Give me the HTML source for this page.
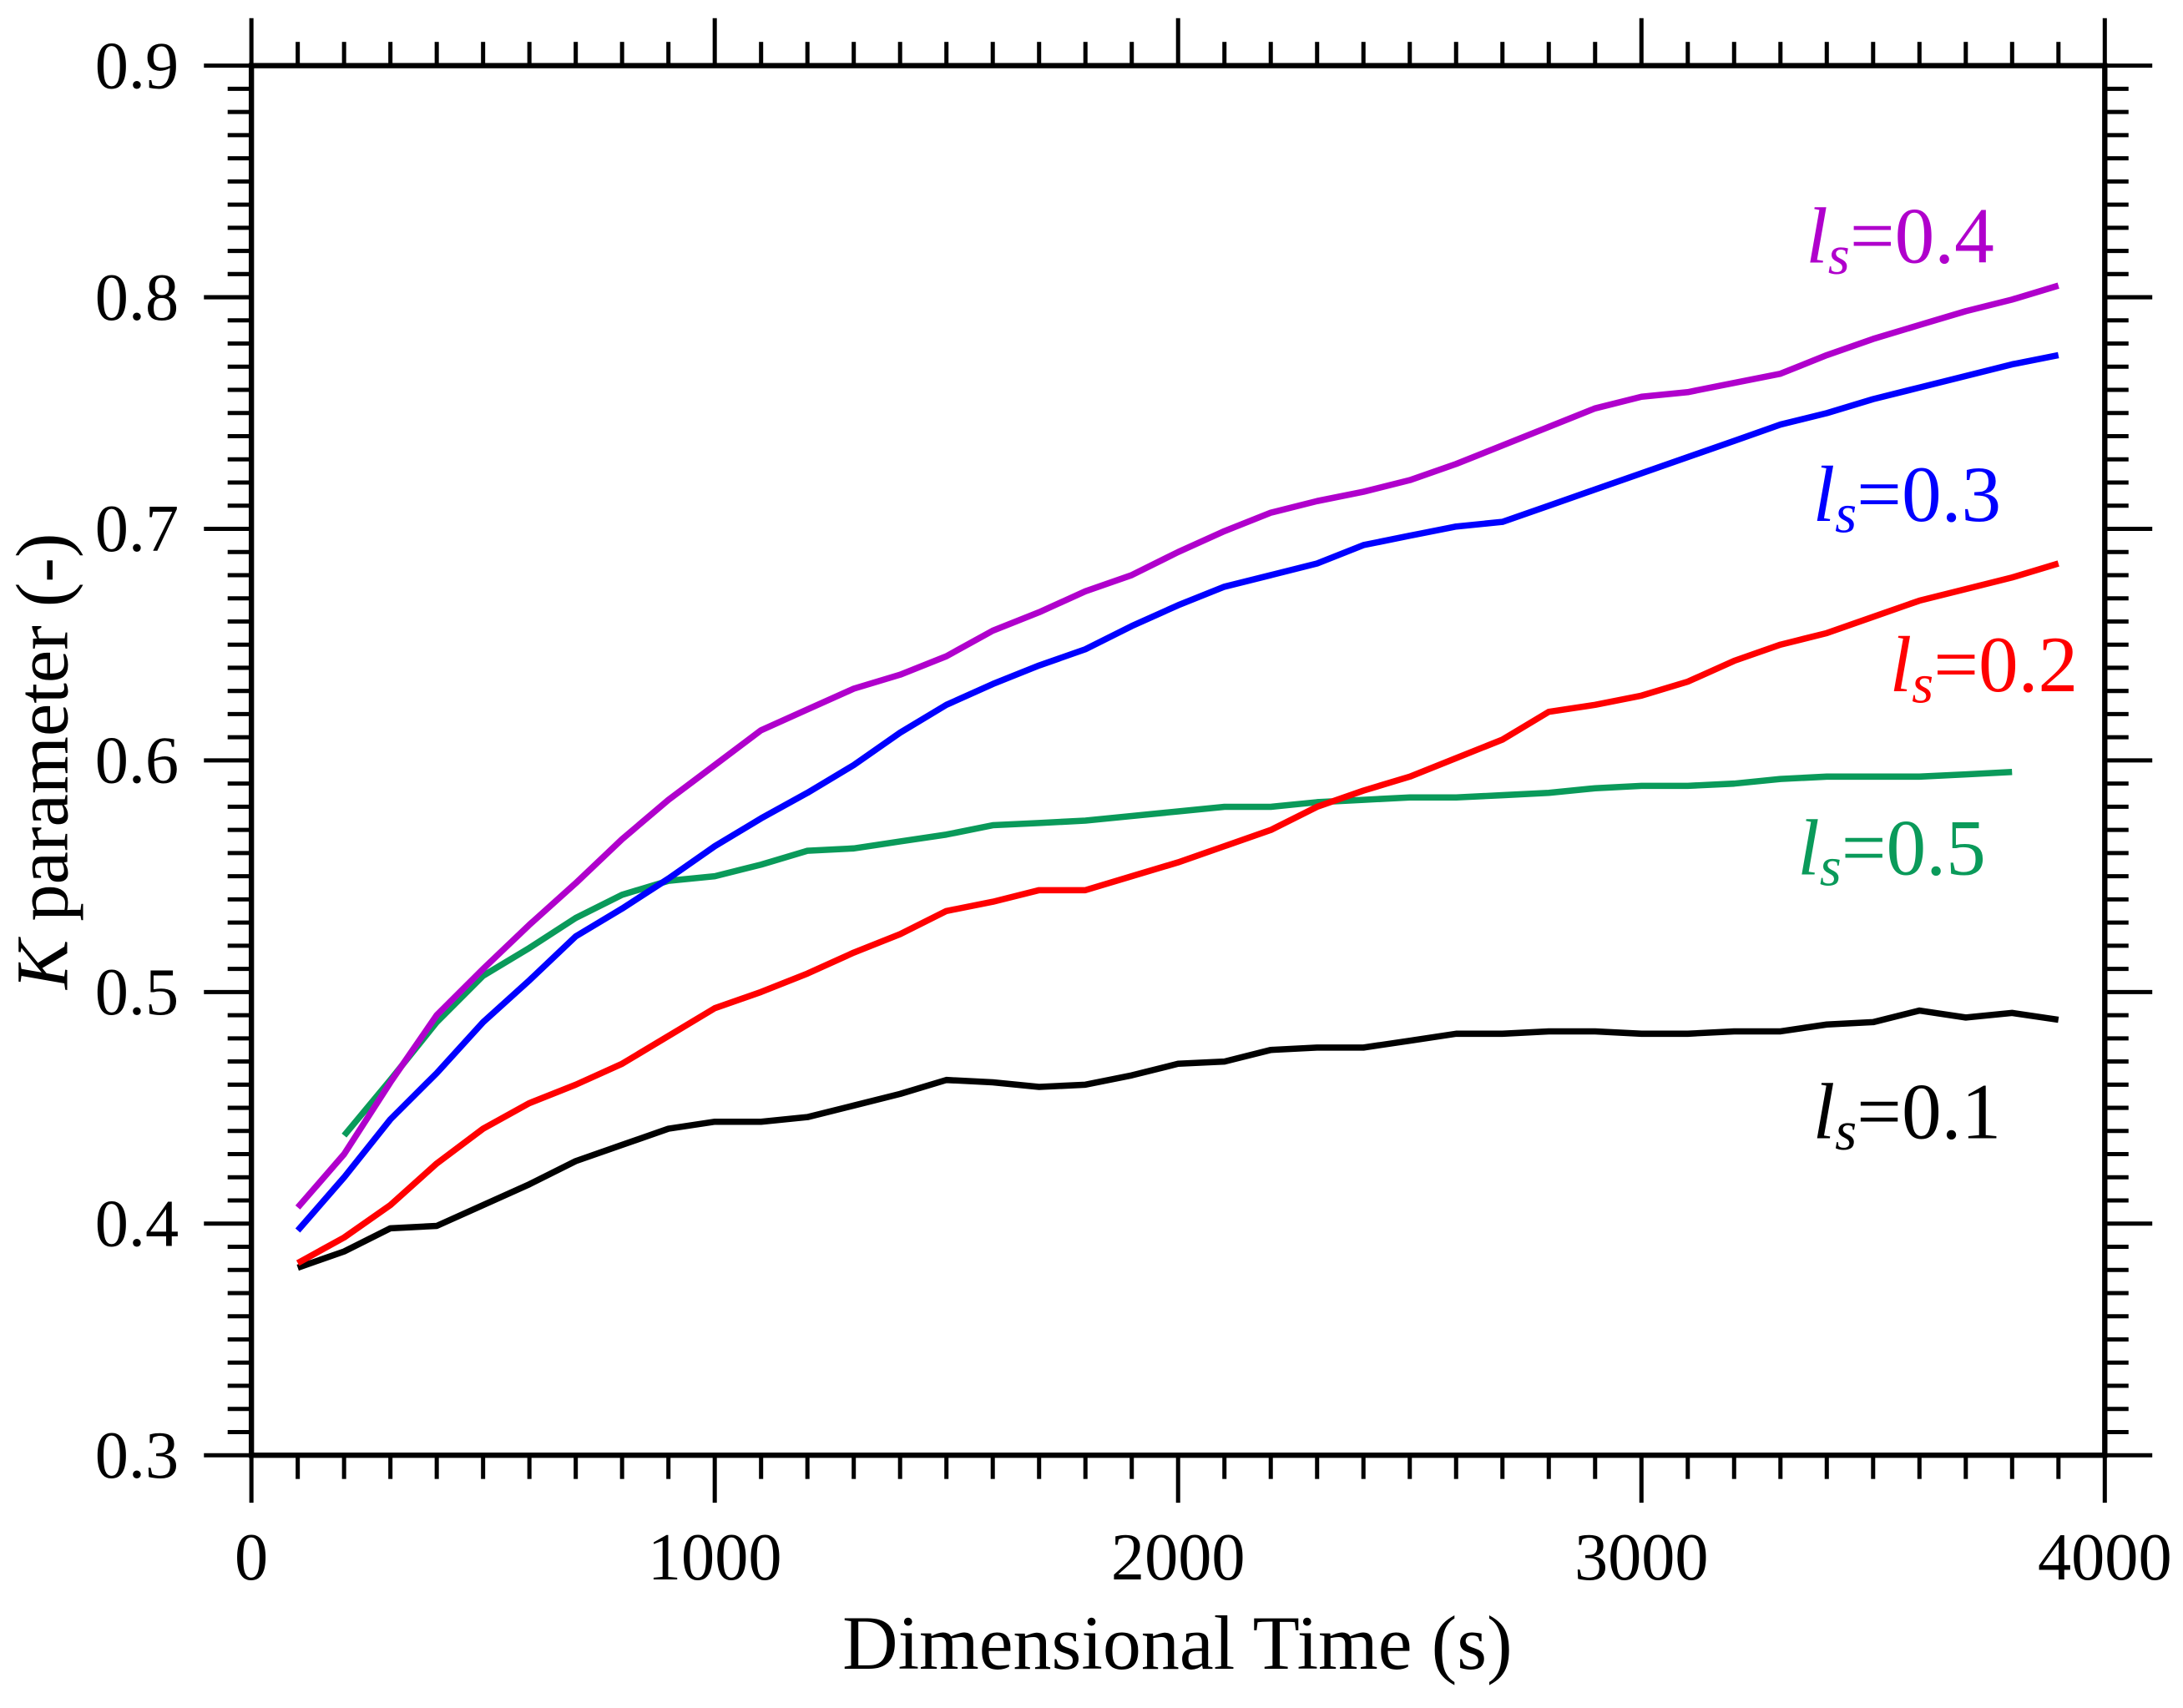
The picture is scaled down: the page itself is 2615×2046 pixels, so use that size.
<!DOCTYPE html>
<html><head><meta charset="utf-8"><style>
html,body{margin:0;padding:0;background:#fff;}
svg{display:block;}
text{font-family:"Liberation Serif",serif;}
</style></head><body>
<svg id="chart" width="2615" height="2046" viewBox="0 0 1563 1223" preserveAspectRatio="none" xmlns="http://www.w3.org/2000/svg">
<g id="axes"></g>
<g id="series"></g>
<text x="843" y="1195" font-size="55" text-anchor="middle">Dimensional Time (s)</text>
<text transform="translate(48,545) rotate(-90)" font-size="53" text-anchor="middle"><tspan font-style="italic">K</tspan> parameter (-)</text>
<text x="1293" y="188" font-size="57" fill="#b000cc"><tspan font-style="italic">l</tspan><tspan font-style="italic" font-size="40" dy="8">s</tspan><tspan dy="-8">=0.4</tspan></text>
<text x="1298" y="373" font-size="57" fill="#0000ff"><tspan font-style="italic">l</tspan><tspan font-style="italic" font-size="40" dy="8">s</tspan><tspan dy="-8">=0.3</tspan></text>
<text x="1353" y="495" font-size="57" fill="#ff0000"><tspan font-style="italic">l</tspan><tspan font-style="italic" font-size="40" dy="8">s</tspan><tspan dy="-8">=0.2</tspan></text>
<text x="1287" y="626" font-size="57" fill="#0a9a5a"><tspan font-style="italic">l</tspan><tspan font-style="italic" font-size="40" dy="8">s</tspan><tspan dy="-8">=0.5</tspan></text>
<text x="1298" y="815" font-size="57" fill="#000"><tspan font-style="italic">l</tspan><tspan font-style="italic" font-size="40" dy="8">s</tspan><tspan dy="-8">=0.1</tspan></text>
</svg>
<script>
const xTicks=[0,1000,2000,3000,4000];
const yTicks=[0.3,0.4,0.5,0.6,0.7,0.8,0.9];
const xTickLabels=["0","1000","2000","3000","4000"];
const yTickLabels=["0.3","0.4","0.5","0.6","0.7","0.8","0.9"];
const timeA=[100,200,300,400,500,600,700,800,900,1000,1100,1200,1300,1400,1500,1600,1700,1800,1900,2000,2100,2200,2300,2400,2500,2600,2700,2800,2900,3000,3100,3200,3300,3400,3500,3600,3700,3800,3900];
const timeG=[200,300,400,500,600,700,800,900,1000,1100,1200,1300,1400,1500,1600,1700,1800,1900,2000,2100,2200,2300,2400,2500,2600,2700,2800,2900,3000,3100,3200,3300,3400,3500,3600,3700,3800];
const ls01=[0.381,0.388,0.398,0.399,0.408,0.417,0.427,0.434,0.441,0.444,0.444,0.446,0.451,0.456,0.462,0.461,0.459,0.460,0.464,0.469,0.470,0.475,0.476,0.476,0.479,0.482,0.482,0.483,0.483,0.482,0.482,0.483,0.483,0.486,0.487,0.492,0.489,0.491,0.488];
const ls02=[0.383,0.394,0.408,0.426,0.441,0.452,0.460,0.469,0.481,0.493,0.500,0.508,0.517,0.525,0.535,0.539,0.544,0.544,0.550,0.556,0.563,0.570,0.580,0.587,0.593,0.601,0.609,0.621,0.624,0.628,0.634,0.643,0.650,0.655,0.662,0.669,0.674,0.679,0.685];
const ls03=[0.397,0.420,0.445,0.465,0.487,0.505,0.524,0.536,0.549,0.563,0.575,0.586,0.598,0.612,0.624,0.633,0.641,0.648,0.658,0.667,0.675,0.680,0.685,0.693,0.697,0.701,0.703,0.710,0.717,0.724,0.731,0.738,0.745,0.750,0.756,0.761,0.766,0.771,0.775];
const ls04=[0.407,0.430,0.461,0.490,0.510,0.529,0.547,0.566,0.583,0.598,0.613,0.622,0.631,0.637,0.645,0.656,0.664,0.673,0.680,0.690,0.699,0.707,0.712,0.716,0.721,0.728,0.736,0.744,0.752,0.757,0.759,0.763,0.767,0.775,0.782,0.788,0.794,0.799,0.805];
const ls05=[0.438,0.462,0.487,0.507,0.519,0.532,0.542,0.548,0.550,0.555,0.561,0.562,0.565,0.568,0.572,0.573,0.574,0.576,0.578,0.580,0.580,0.582,0.583,0.584,0.584,0.585,0.586,0.588,0.589,0.589,0.590,0.592,0.593,0.593,0.593,0.594,0.595];

const X0=180,X1=1507,Y0=1042,Y1=47;
function sx(v){return X0+(v-0)/(4000-0)*(X1-X0);}
function sy(v){return Y0-(v-0.3)/(0.9-0.3)*(Y0-Y1);}
const NS="http://www.w3.org/2000/svg";
const axes=document.getElementById('axes');
function ln(x1,y1,x2,y2,w,name){
  const l=document.createElementNS(NS,'line');
  l.setAttribute('x1',x1);l.setAttribute('y1',y1);l.setAttribute('x2',x2);l.setAttribute('y2',y2);
  l.setAttribute('stroke','#000');l.setAttribute('stroke-width',w);
  
  
  axes.appendChild(l);
}
const frame=document.createElementNS(NS,'rect');
frame.setAttribute('x',X0);frame.setAttribute('y',Y1);frame.setAttribute('width',X1-X0);frame.setAttribute('height',Y0-Y1);
frame.setAttribute('fill','none');frame.setAttribute('stroke','#000');frame.setAttribute('stroke-width',3.8);


axes.appendChild(frame);
for(let v=0;v<=4000;v+=100){
  const major=v%1000===0;const L=major?34:17;const x=sx(v);
  ln(x,Y0,x,Y0+L,3,'x-tick');
  ln(x,Y1,x,Y1-L,3,'x-tick-top');
}
for(let i=0;i<=60;i++){
  const v=0.3+i*0.01;const major=i%10===0;const L=major?34:17;const y=sy(v);
  ln(X0,y,X0-L,y,3,'y-tick');
  ln(X1,y,X1+L,y,3,'y-tick-right');
}
xTicks.forEach((v,i)=>{
  const t=document.createElementNS(NS,'text');
  t.setAttribute('x',sx(v));t.setAttribute('y',1131);t.setAttribute('font-size',48);t.setAttribute('text-anchor','middle');
  t.textContent=xTickLabels[i];
  
  
  axes.appendChild(t);
});
yTicks.forEach((v,i)=>{
  const t=document.createElementNS(NS,'text');
  t.setAttribute('x',128);t.setAttribute('y',sy(v)+16);t.setAttribute('font-size',48);t.setAttribute('text-anchor','end');
  t.textContent=yTickLabels[i];
  
  
  axes.appendChild(t);
});
const sg=document.getElementById('series');
function series(xs,ys,color,name){
  const p=document.createElementNS(NS,'polyline');
  p.setAttribute('points',xs.map((x,i)=>sx(x).toFixed(1)+','+sy(ys[i]).toFixed(1)).join(' '));
  p.setAttribute('fill','none');p.setAttribute('stroke',color);p.setAttribute('stroke-width',4.5);
  p.setAttribute('stroke-linejoin','round');
  
  
  sg.appendChild(p);
}
series(timeG,ls05,'#0a9a5a','line-ls-0.5');
series(timeA,ls01,'#000000','line-ls-0.1');
series(timeA,ls02,'#ff0000','line-ls-0.2');
series(timeA,ls03,'#0000ff','line-ls-0.3');
series(timeA,ls04,'#b000cc','line-ls-0.4');
</script>
</body></html>
